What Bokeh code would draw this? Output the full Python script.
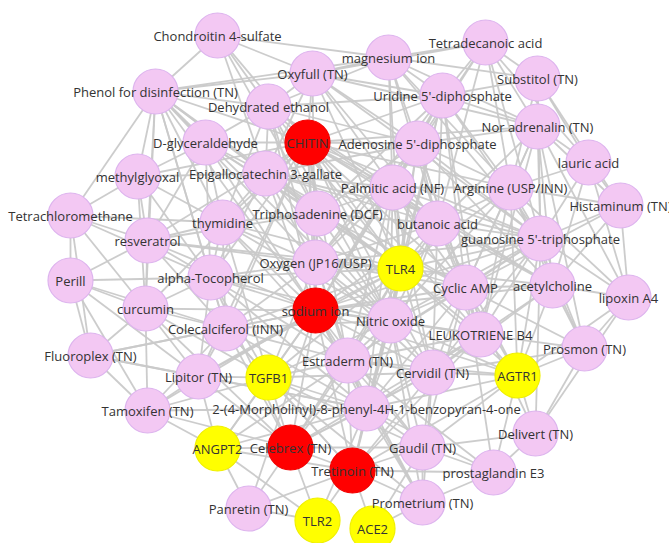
from bokeh.plotting import figure
from bokeh.models import GraphRenderer, StaticLayoutProvider, Scatter, MultiLine, Range1d, ColumnDataSource
from bokeh.core.properties import value
from bokeh.embed import file_html
from bokeh.resources import INLINE

# ---- data: nodes (id, label, group, layout position) ----
node_id = ["CS", "OX", "PH", "DE", "CH", "DG", "MG", "EG", "MI", "TD", "SU", "UD", "NA", "AD", "LA",
           "TC", "RE", "TY", "PE", "AT", "CU", "CO", "FL", "PA", "AR", "HI", "BU", "GT", "T4", "CA",
           "AC", "LX", "NO", "LT", "PR", "TP", "OG", "SO", "ES", "TG", "LI", "CE", "MO", "AG", "TA",
           "AN", "CB", "TR", "PN", "T2", "A2", "PM", "GA", "PG", "DL"]
node_label = ["Chondroitin 4-sulfate", "Oxyfull (TN)", "Phenol for disinfection (TN)", "Dehydrated ethanol",
              "CHITIN", "D-glyceraldehyde", "methylglyoxal", "Epigallocatechin 3-gallate", "magnesium ion",
              "Tetradecanoic acid", "Substitol (TN)", "Uridine 5'-diphosphate", "Nor adrenalin (TN)",
              "Adenosine 5'-diphosphate", "lauric acid", "Tetrachloromethane", "resveratrol", "thymidine",
              "Perill", "alpha-Tocopherol", "curcumin", "Colecalciferol (INN)", "Fluoroplex (TN)",
              "Palmitic acid (NF)", "Arginine (USP/INN)", "Histaminum (TN)", "butanoic acid",
              "guanosine 5'-triphosphate", "TLR4", "Cyclic AMP", "acetylcholine", "lipoxin A4",
              "Nitric oxide", "LEUKOTRIENE B4", "Prosmon (TN)", "Triphosadenine (DCF)", "Oxygen (JP16/USP)",
              "sodium ion", "Estraderm (TN)", "TGFB1", "Lipitor (TN)", "Cervidil (TN)",
              "2-(4-Morpholinyl)-8-phenyl-4H-1-benzopyran-4-one", "AGTR1", "Tamoxifen (TN)", "ANGPT2",
              "Celebrex (TN)", "Tretinoin (TN)", "Panretin (TN)", "TLR2", "ACE2", "Prometrium (TN)",
              "Gaudil (TN)", "prostaglandin E3", "Delivert (TN)"]
node_group = ["c", "c", "c", "c", "h", "c", "c", "c", "c", "c", "c", "c", "c", "c", "c",
              "c", "c", "c", "c", "c", "c", "c", "c", "c", "c", "c", "c", "c", "g", "c",
              "c", "c", "c", "c", "c", "c", "c", "h", "c", "g", "c", "c", "c", "g", "c",
              "g", "h", "h", "c", "g", "g", "c", "c", "c", "c"]
node_x = [217, 312, 155, 268, 307, 205, 137, 265, 388, 485, 537, 442, 537, 417, 588,
          70, 147, 222, 70, 210, 145, 225, 90, 392, 510, 620, 437, 540, 400, 465,
          552, 628, 390, 480, 584, 317, 315, 315, 347, 268, 198, 432, 366, 517, 147,
          217, 290, 352, 248, 317, 372, 422, 422, 493, 535]
node_y = [35, 73, 91, 106, 142, 142, 176, 173, 57, 42, 78, 95, 126, 143, 162,
          215, 240, 222, 280, 277, 308, 328, 355, 187, 187, 205, 223, 238, 268, 287,
          285, 297, 320, 334, 348, 213, 262, 310, 360, 377, 376, 372, 408, 375, 410,
          448, 447, 470, 508, 520, 528, 502, 447, 472, 433]

# ---- data: edges (adjacency by node id) ----
adjacency = {
    "CS": "DE EG MI OX CH PH TP",
    "OX": "MI TD UD AD CH DE PH PA BU EG SO T4 GT NA",
    "PH": "MI OX DE DG MG TC RE EG CH TY AT CU TP SO OG T4 NO CO",
    "DE": "CH DG EG MI UD AD PA TP TY OG SO BU T4 NO",
    "CH": "DG EG AD PA UD NA AR BU TP OG SO T4 TY AT RE MG GT CA CO CU LI ES NO CE LT AC",
    "DG": "MG EG TY RE TP AT SO",
    "MG": "TC RE EG TY AT CU",
    "EG": "TY TP PA AD OG AT SO T4 BU CA NO GT",
    "MI": "TD UD AD PA AR NA SU BU T4 GT",
    "TD": "SU UD AD NA PA AR LA BU GT",
    "SU": "NA UD AR LA GT HI",
    "UD": "AD NA PA AR BU GT T4 CA NO LT OG TP",
    "NA": "AR LA HI GT BU AC CA AD LX PR LT",
    "AD": "PA AR BU TP GT T4 OG CA NO LT AC",
    "LA": "HI AR GT AC LX",
    "TC": "RE PE CU TY AT FL",
    "RE": "TY AT PE CU CO OG SO TP",
    "TY": "TP AT OG SO CO T4 NO ES TG",
    "PE": "CU AT FL CO LI TA",
    "AT": "CU CO OG SO TG LI ES NO MO CB",
    "CU": "CO FL LI TA SO TG",
    "CO": "LI TG SO ES FL TA OG NO MO CB TR",
    "FL": "LI TA SO MO",
    "PA": "AR BU TP OG T4 GT CA NO LT CE AC ES MO",
    "AR": "BU GT CA AC HI T4 NO LT AG PR LX",
    "HI": "GT AC LX CA",
    "BU": "GT T4 CA TP OG NO LT AC CE ES MO AG",
    "GT": "CA AC LT PR LX AG NO CE ES DL",
    "T4": "OG SO NO CA LT ES TP CE TG LI CO AT RE TY DG AD UD PA GT AC AG MO CB TR",
    "CA": "AC NO LT CE AG ES MO GA PG DL PR",
    "AC": "LX PR LT AG CE",
    "LX": "PR AG DL",
    "NO": "SO LT ES CE MO OG TG GA PM CB",
    "LT": "CE AG PR ES",
    "PR": "AG DL CE",
    "TP": "OG SO PA BU AD UD NO CA",
    "OG": "SO ES TG PA BU GT CA NO CE MO",
    "SO": "ES TG LI CE MO CB TR PA BU AD UD GT AC CA LT AG GA PM PN TA AN",
    "ES": "TG CE MO CB TR GA LT AG PM PG",
    "TG": "LI MO CB TA AN TR ES NO CE GA PM",
    "LI": "TA MO AN CB",
    "CE": "MO GA AG TR PM",
    "MO": "CB TR GA AN PM T2 ES NO LT AG PG",
    "AG": "DL GA PG TR LT CA AC GT BU NO ES",
    "TA": "AN CB MO",
    "AN": "CB PN T2 TR TG LI MO ES",
    "CB": "TR PN T2 GA CE ES NO LT CO AT CU",
    "TR": "PN T2 A2 PM GA PG CE LT AG NO ES",
    "PN": "T2",
    "A2": "PM GA",
    "PM": "GA PG",
    "GA": "PG DL",
    "PG": "DL",
}

# ---- styles ----
fill_map = {"c": "#F3C8F3", "h": "#FF0000", "g": "#FFFF00"}
line_map = {"c": "#DDB4EE", "h": "#F20000", "g": "#F0F000"}

edge_start, edge_end = [], []
seen = set()
for a, targets in adjacency.items():
    for b in targets.split():
        key = tuple(sorted((a, b)))
        if a != b and key not in seen:
            seen.add(key)
            edge_start.append(a)
            edge_end.append(b)

W, H = 669, 543
p = figure(width=W, height=H, output_backend="svg", toolbar_location=None,
           x_range=Range1d(0, W), y_range=Range1d(H, 0),
           min_border=0, background_fill_color="white", border_fill_color="white")
p.axis.visible = False
p.grid.visible = False
p.outline_line_color = None

graph = GraphRenderer()
graph.node_renderer.data_source.data = dict(
    index=node_id,
    fill=[fill_map[g] for g in node_group],
    line=[line_map[g] for g in node_group],
)
graph.node_renderer.glyph = Scatter(size=45, fill_color="fill", line_color="line", line_width=1.2)
graph.edge_renderer.data_source.data = dict(start=edge_start, end=edge_end)
graph.edge_renderer.glyph = MultiLine(line_color="#C9C9C9", line_width=1.8, line_alpha=0.95)
graph.layout_provider = StaticLayoutProvider(
    graph_layout={n: (x, y) for n, x, y in zip(node_id, node_x, node_y)})
p.renderers.append(graph)

src = ColumnDataSource(dict(x=node_x, y=node_y, t=node_label))
p.text(x="x", y="y", text="t", source=src, text_align="center", text_baseline="middle",
       text_font=value("Open Sans"), text_font_size="13px", text_color="#333333")

open("out.html", "w").write(file_html(p, INLINE))
